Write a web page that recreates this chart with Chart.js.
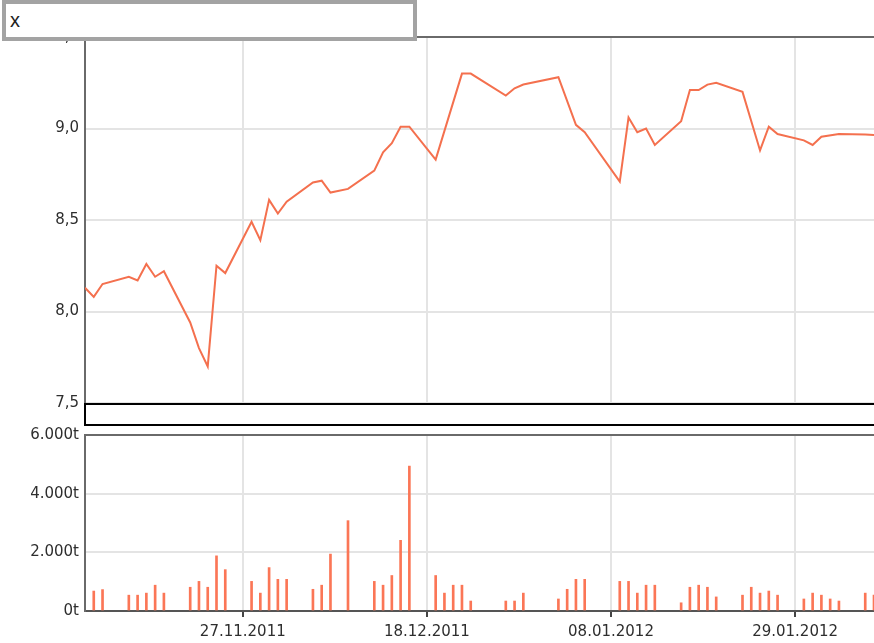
<!DOCTYPE html>
<html><head><meta charset="utf-8">
<script src="https://cdn.jsdelivr.net/npm/chart.js@4.4.0/dist/chart.umd.min.js"></script>
<style>
html,body{margin:0;padding:0;background:#fff;}
body{width:874px;height:643px;position:relative;overflow:hidden;}
#cA{position:absolute;left:0;top:0;}
#cB{position:absolute;left:0;top:420px;}
#nav{position:absolute;left:84px;top:403px;width:800px;height:19px;border:2px solid #000;background:#fff;z-index:2;}
#search{position:absolute;left:2px;top:0;width:415px;height:41px;box-sizing:border-box;border:4px solid #a3a3a3;background:#fff;font:20px 'Liberation Sans',Arial,sans-serif;color:#222;padding:0 0 0 4px;margin:0;z-index:3;outline:none;}
</style></head>
<body>
<canvas id="cA" width="874" height="420"></canvas>
<canvas id="cB" width="874" height="223"></canvas>
<div id="nav"></div>
<input id="search" type="text" value="x">
<script>
// ---- data ----
const dates = ['09.11.2011','10.11.2011','11.11.2011','14.11.2011','15.11.2011','16.11.2011','17.11.2011','18.11.2011','21.11.2011','22.11.2011','23.11.2011','24.11.2011','25.11.2011','28.11.2011','29.11.2011','30.11.2011',
 '01.12.2011','02.12.2011','05.12.2011','06.12.2011','07.12.2011','09.12.2011','12.12.2011','13.12.2011','14.12.2011','15.12.2011','16.12.2011','19.12.2011','20.12.2011','21.12.2011','22.12.2011','23.12.2011','27.12.2011','28.12.2011','29.12.2011',
 '02.01.2012','03.01.2012','04.01.2012','05.01.2012','09.01.2012','10.01.2012','11.01.2012','12.01.2012','13.01.2012','16.01.2012','17.01.2012','18.01.2012','19.01.2012','20.01.2012','23.01.2012','24.01.2012','25.01.2012','26.01.2012','27.01.2012','30.01.2012','31.01.2012',
 '01.02.2012','02.02.2012','03.02.2012','06.02.2012','07.02.2012'];
const prices = [8.13,8.08,8.15,8.19,8.17,8.26,8.19,8.22,7.94,7.80,7.70,8.25,8.21,8.49,8.39,8.61,
 8.535,8.60,8.705,8.715,8.65,8.67,8.77,8.87,8.92,9.01,9.01,8.83,null,null,9.30,9.30,9.18,9.22,9.24,
 9.28,null,9.02,8.98,8.71,9.06,8.98,9.00,8.91,9.04,9.21,9.21,9.24,9.25,9.20,null,8.88,9.01,8.97,8.935,8.91,
 8.955,null,8.97,8.967,8.965];
const volumes = [null,680,730,540,540,610,880,610,810,1010,810,1880,1410,1010,610,1480,
 1080,1080,740,880,1940,3080,1010,880,1210,2410,4940,1210,610,880,880,340,340,340,610,
 410,740,1080,1080,1010,1010,610,880,880,280,810,880,810,480,540,810,610,680,540,410,610,
 540,410,340,610,540];
const axisStart = '09.11.2011';
const axisEnd = '07.02.2012';
const xTickLabels = ['27.11.2011','18.12.2011','08.01.2012','29.01.2012'];
const priceTicks = [7.5,8.0,8.5,9.0,9.5];
const priceTickLabels = ['7,5','8,0','8,5','9,0','9,5'];
const volTicks = [0,2000,4000,6000];
const volTickLabels = ['0t','2.000t','4.000t','6.000t'];

// ---- helpers ----
const BASE = Date.UTC(2011,10,27);
function dayNum(s){const [d,m,y]=s.split('.').map(Number);return Math.round((Date.UTC(y,m-1,d)-BASE)/86400000);}
const X_MIN = dayNum(axisStart), X_MAX = dayNum(axisEnd);
const xTickDays = xTickLabels.map(dayNum);
const FONT = {family:"'DejaVu Sans', Verdana, sans-serif", size:15};
const TEXT = '#2e2e2e';
const GRID = '#e4e4e4';
const LINE = '#f4704e';
const BAR = '#fb7656';

new Chart(document.getElementById('cA'), {
  type:'line',
  data:{datasets:[{data:dates.map((d,i)=>({x:dayNum(d),y:prices[i]})),borderColor:LINE,borderWidth:2,pointRadius:0,tension:0,spanGaps:true,fill:false}]},
  options:{
    responsive:false,animation:false,
    layout:{padding:{top:37,left:0,right:0,bottom:0}},
    plugins:{legend:{display:false},tooltip:{enabled:false}},
    scales:{
      x:{type:'linear',min:X_MIN,max:X_MAX,
        afterBuildTicks:s=>{s.ticks=xTickDays.map(v=>({value:v}));},
        afterFit:s=>{s.height=17;},
        ticks:{display:false},
        grid:{color:GRID,lineWidth:2,drawTicks:false},
        border:{display:false}},
      y:{min:7.5,max:9.5,
        afterBuildTicks:s=>{s.ticks=priceTicks.map(v=>({value:v}));},
        afterFit:s=>{s.width=85;},
        ticks:{callback:v=>priceTickLabels[priceTicks.indexOf(v)],padding:6,color:TEXT,font:FONT},
        grid:{drawTicks:false,lineWidth:2,color:c=>(c.tick&&c.tick.value===9.5)?'#6a6a6a':GRID},
        border:{color:'#6a6a6a',width:2}}
    }
  }
});

new Chart(document.getElementById('cB'), {
  type:'bar',
  data:{datasets:[{data:dates.map((d,i)=>({x:dayNum(d),y:volumes[i]})),backgroundColor:BAR,barThickness:2,borderWidth:0}]},
  options:{
    responsive:false,animation:false,
    layout:{padding:{top:13,left:0,right:0,bottom:0}},
    plugins:{legend:{display:false},tooltip:{enabled:false}},
    scales:{
      x:{type:'linear',min:X_MIN,max:X_MAX,offset:false,
        afterBuildTicks:s=>{s.ticks=xTickDays.map(v=>({value:v}));},
        afterFit:s=>{s.height=32;},
        ticks:{callback:v=>xTickLabels[xTickDays.indexOf(v)],maxRotation:0,autoSkip:false,padding:6,color:TEXT,font:FONT},
        grid:{offset:false,color:GRID,lineWidth:2,tickColor:'#444',tickLength:6,tickWidth:2},
        border:{color:'#555',width:2}},
      y:{min:0,max:6000,
        afterBuildTicks:s=>{s.ticks=volTicks.map(v=>({value:v}));},
        afterFit:s=>{s.width=85;},
        ticks:{callback:v=>volTickLabels[volTicks.indexOf(v)],padding:6,color:TEXT,font:FONT},
        grid:{drawTicks:false,lineWidth:2,color:c=>(c.tick&&c.tick.value===6000)?'#6a6a6a':GRID},
        border:{color:'#6a6a6a',width:2}}
    }
  }
});
</script>
</body></html>
